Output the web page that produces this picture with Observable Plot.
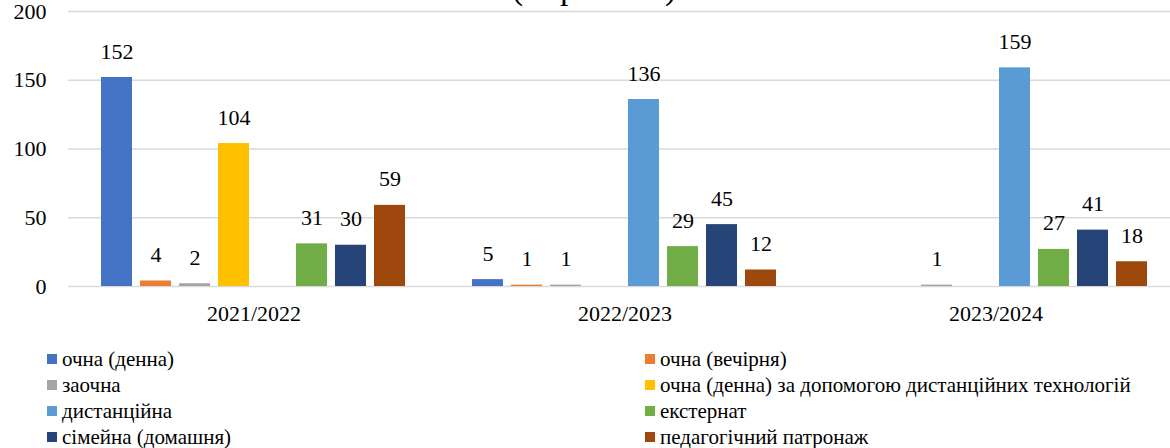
<!DOCTYPE html>
<html>
<head>
<meta charset="utf-8">
<script src="https://cdn.jsdelivr.net/npm/d3@7"></script>
<script src="https://cdn.jsdelivr.net/npm/@observablehq/plot@0.6"></script>
<style>
  html, body { margin: 0; padding: 0; background: #fff; overflow: hidden; width: 1170px; height: 448px; }
  #wrap { position: relative; width: 1170px; height: 448px; overflow: hidden; font-family: 'Liberation Serif', serif; color: #000; }
  #title { position: absolute; top: 0; left: 0; width: 1170px; height: 20px; overflow: hidden; pointer-events: none; }
  #chart { position: absolute; top: 0; left: 0; width: 1200px; }
  #chart svg { max-width: none !important; }
  #chart svg text { font-family: 'Liberation Serif', serif !important; }
  #legend { position: absolute; top: 346px; left: 47px; display: grid; grid-template-columns: 598px auto; grid-auto-rows: 26px; font-family: 'Liberation Serif', serif; font-size: 21px; }
  .item { display: flex; align-items: center; white-space: nowrap; }
  .sw { width: 10px; height: 10px; margin-right: 5px; flex: none; }
</style>
</head>
<body>
<div id="wrap">
  <div id="chart"></div>
  <svg id="title" width="1170" height="20"><text x="594" y="-1" text-anchor="middle" font-family="'Liberation Serif', serif" font-size="34" fill="#000">(за роками)</text></svg>
  <div id="legend"></div>
</div>
<script>
const years = ["2021/2022", "2022/2023", "2023/2024"];
const series = [
  "очна (денна)",
  "очна (вечірня)",
  "заочна",
  "очна (денна) за допомогою дистанційних технологій",
  "дистанційна",
  "екстернат",
  "сімейна (домашня)",
  "педагогічний патронаж"
];
const colors = ["#4472C4", "#ED7D31", "#A5A5A5", "#FFC000", "#5B9BD5", "#70AD47", "#264478", "#9E480E"];

// values per series, by year (null = no bar)
const ochnaDenna     = [152, 5, null];
const ochnaVechirnia = [4, 1, null];
const zaochna        = [2, 1, 1];
const ochnaDist      = [104, null, null];
const dystantsiina   = [null, 136, 159];
const eksternat      = [31, 29, 27];
const simeina        = [30, 45, 41];
const patronazh      = [59, 12, 18];
const yTicks = [0, 50, 100, 150, 200];

const valuesBySeries = [ochnaDenna, ochnaVechirnia, zaochna, ochnaDist, dystantsiina, eksternat, simeina, patronazh];
const data = [];
years.forEach((yr, yi) => {
  series.forEach((s, si) => {
    const v = valuesBySeries[si][yi];
    if (v != null) data.push({year: yr, series: s, value: v});
  });
});

const chart = Plot.plot({
  width: 1181,
  height: 330,
  marginTop: 11,
  marginBottom: 44,
  marginLeft: 67,
  marginRight: 0,
  style: {fontFamily: "'Liberation Serif', serif", fontSize: "22px", color: "#000", background: "#fff", maxWidth: "none"},
  fx: {domain: years, padding: 0, label: null, axis: null},
  x: {domain: series, paddingInner: 0.2, paddingOuter: 0.856, axis: null},
  y: {domain: [0, 200], label: null, axis: null},
  color: {domain: series, range: colors},
  marks: [
    Plot.gridY(yTicks, {stroke: "#d9d9d9", strokeOpacity: 1, strokeWidth: 1.5}),
    Plot.axisY(yTicks, {tickSize: 0, tickPadding: 22, fontSize: 22, label: null}),
    Plot.axisFx({anchor: "bottom", tickSize: 0, tickPadding: 19, fontSize: 22, label: null, lineAnchor: "top"}),
    Plot.barY(data, {fx: "year", x: "series", y: "value", fill: "series"}),
    Plot.text(data, {fx: "year", x: "series", y: "value", text: d => String(d.value), dy: -26, fontSize: 22, fill: "#000"})
  ]
});
document.getElementById("chart").appendChild(chart);

const legend = document.getElementById("legend");
series.forEach((s, i) => {
  const item = document.createElement("div");
  item.className = "item";
  const sw = document.createElement("span");
  sw.className = "sw";
  sw.style.background = colors[i];
  const lab = document.createElement("span");
  lab.textContent = s;
  item.appendChild(sw);
  item.appendChild(lab);
  legend.appendChild(item);
});
</script>
</body>
</html>
